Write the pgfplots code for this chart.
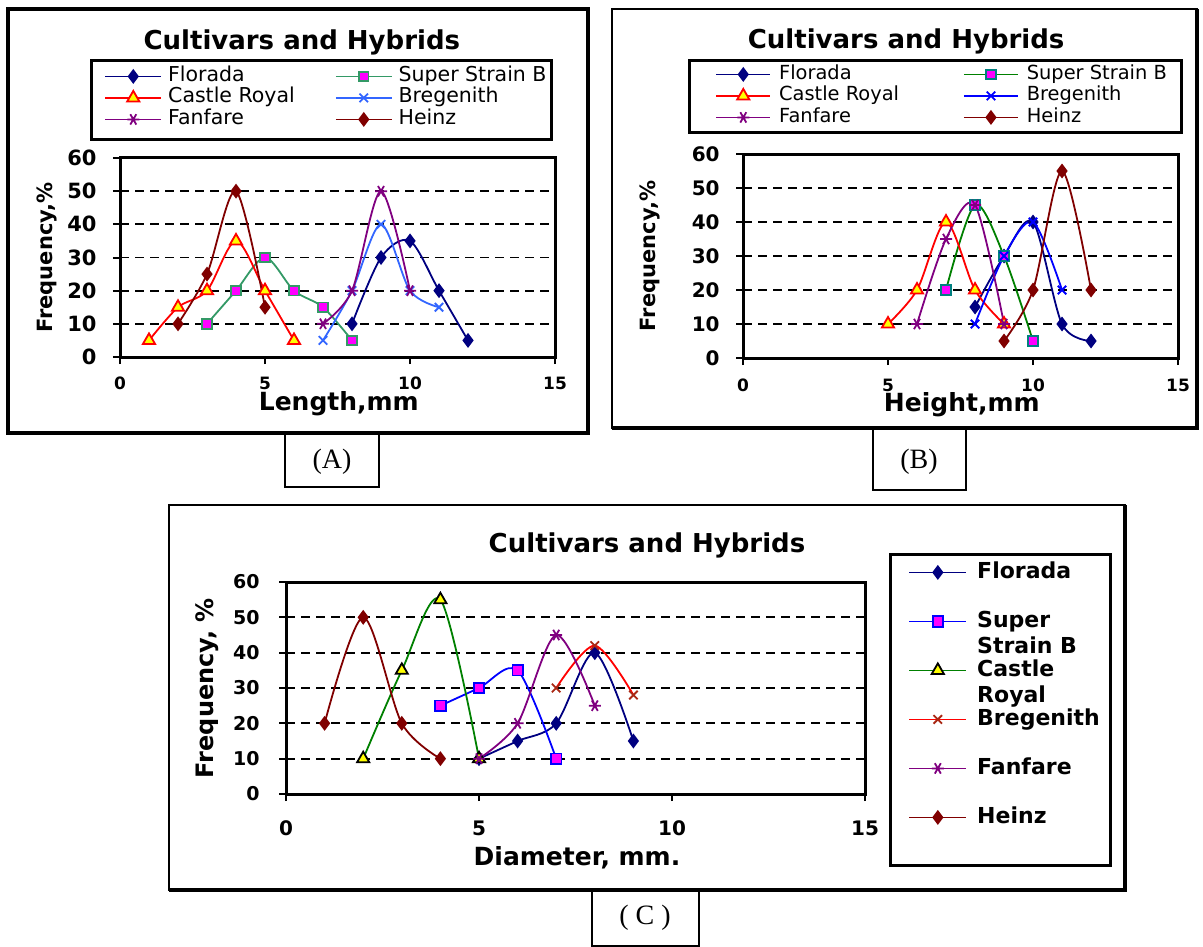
\documentclass[border=0pt]{standalone}
\usepackage{fontspec}
\setmainfont{DejaVu Sans}
\newfontfamily\capfont{Liberation Serif}
\usepackage{pgfplots}
\pgfplotsset{compat=1.18}

\definecolor{navy}{RGB}{0,0,128}
\definecolor{seagreen}{RGB}{51,153,102}
\definecolor{xlgreen}{RGB}{0,128,0}
\definecolor{xlteal}{RGB}{0,128,128}
\definecolor{xlmagenta}{RGB}{255,0,255}
\definecolor{xlred}{RGB}{255,0,0}
\definecolor{xlyellow}{RGB}{255,255,0}
\definecolor{lightblue}{RGB}{51,102,255}
\definecolor{xlblue}{RGB}{0,0,255}
\definecolor{xlpurple}{RGB}{128,0,128}
\definecolor{heinz}{RGB}{128,0,0}
\definecolor{brick}{RGB}{170,40,20}

\pgfplotsset{
  panel/.style={
    scale only axis,
    xmin=0, xmax=15, ymin=0, ymax=60,
    xtick={0,5,10,15}, ytick={0,10,...,60},
    tick pos=left, tick align=outside, major tick length=3.5pt,
    tick style={black, line width=1pt},
    axis line style={line width=1.5pt},
    ymajorgrids,
    major grid style={black, line width=0.9pt, dash pattern=on 4.5pt off 3pt},
    /pgf/number format/assume math mode=true,
    xticklabel style={anchor=center, inner sep=0pt},
    yticklabel style={anchor=east, inner sep=0pt},
    every axis plot/.append style={smooth, line width=0.9pt},
    legend cell align=left,
    every axis title shift=0pt,
    ylabel style={anchor=center},
    xlabel style={anchor=center},
    title style={anchor=center},
  },
}

\begin{document}
\begin{tikzpicture}
\begin{scope}[x=0.5pt,y=-0.5pt]
\path[use as bounding box] (0,0) rectangle (1203,943);
\end{scope}

% ---------------- (A) length
\begin{axis}[panel,
  at={(60pt,-178.5pt)}, anchor=south west,
  width=217.5pt, height=99.5pt,
  xticklabel style={yshift=-9.5pt, font=\fontsize{8.5}{10}\selectfont\bfseries},
  yticklabel style={xshift=-8pt, font=\fontsize{10.5}{12}\selectfont\bfseries},
  title={Cultivars and Hybrids},
  title style={at={(axis description cs:0.418,1.583)}, font=\fontsize{13}{15}\selectfont\bfseries},
  xlabel={Length,mm},
  xlabel style={at={(axis description cs:0.503,-0.236)}, font=\fontsize{12.5}{15}\selectfont\bfseries},
  ylabel={Frequency,\%},
  ylabel style={at={(axis description cs:-0.168,0.5)}, font=\fontsize{10.5}{12}\selectfont\bfseries},
  legend columns=2,
  legend image code/.code={\draw[mark repeat=2,mark phase=2] plot coordinates {(0pt,0pt) (14pt,0pt) (28pt,0pt)};},
  legend style={at={(axis description cs:-0.0368,1.4623)}, anchor=north west,
    draw=none, fill=none, inner sep=0pt, row sep=0.75pt,
    font=\fontsize{10.25}{12}\selectfont,
    nodes={inner xsep=3pt, inner ysep=0pt, text height=7.5pt, text depth=2.5pt},
    /tikz/every even column/.append style={column sep=17pt}},
]
\addplot[color=navy, mark=diamond*, mark size=3pt] coordinates {(8,10) (9,30) (10,35) (11,20) (12,5)};
\addplot[color=seagreen, mark=square*, mark size=2.4pt, mark options={fill=xlmagenta, draw=seagreen}] coordinates {(3,10) (4,20) (5,30) (6,20) (7,15) (8,5)};
\addplot[color=xlred, mark=triangle*, mark size=3.5pt, mark options={fill=xlyellow, draw=xlred}] coordinates {(1,5) (2,15) (3,20) (4,35) (5,20) (6,5)};
\addplot[color=lightblue, mark=x, mark size=3pt] coordinates {(7,5) (8,20) (9,40) (10,20) (11,15)};
\addplot[color=xlpurple, mark=asterisk, mark size=3pt, mark options={rotate=90}] coordinates {(7,10) (8,20) (9,50) (10,20)};
\addplot[color=heinz, mark=diamond*, mark size=3pt] coordinates {(2,10) (3,25) (4,50) (5,15)};
\legend{Florada, Super Strain B, Castle Royal, Bregenith, Fanfare, Heinz}
\end{axis}

% ---------------- (B) height
\begin{axis}[panel,
  at={(371.5pt,-179pt)}, anchor=south west,
  width=217.5pt, height=102pt,
  xticklabel style={yshift=-10pt, font=\fontsize{8.5}{10}\selectfont\bfseries},
  yticklabel style={xshift=-8pt, font=\fontsize{10}{12}\selectfont\bfseries},
  title={Cultivars and Hybrids},
  title style={at={(axis description cs:0.375,1.554)}, font=\fontsize{13}{15}\selectfont\bfseries},
  xlabel={Height,mm},
  xlabel style={at={(axis description cs:0.503,-0.23)}, font=\fontsize{12.5}{15}\selectfont\bfseries},
  ylabel={Frequency,\%},
  ylabel style={at={(axis description cs:-0.214,0.5)}, font=\fontsize{10.5}{12}\selectfont\bfseries},
  legend columns=2,
  legend image code/.code={\draw[mark repeat=2,mark phase=2] plot coordinates {(0pt,0pt) (13.5pt,0pt) (27pt,0pt)};},
  legend style={at={(axis description cs:-0.0644,1.4387)}, anchor=north west,
    draw=none, fill=none, inner sep=0pt, row sep=1.25pt,
    font=\fontsize{9.7}{11}\selectfont,
    nodes={inner xsep=3pt, inner ysep=0pt, text height=7.2pt, text depth=2.3pt},
    /tikz/every odd column/.append style={column sep=1pt},
    /tikz/every even column/.append style={column sep=29pt}},
]
\addplot[color=navy, mark=diamond*, mark size=3pt] coordinates {(8,15) (9,30) (10,40) (11,10) (12,5)};
\addplot[color=xlgreen, mark=square*, mark size=2.4pt, mark options={fill=xlmagenta, draw=xlteal}] coordinates {(7,20) (8,45) (9,30) (10,5)};
\addplot[color=xlred, mark=triangle*, mark size=3.5pt, mark options={fill=xlyellow, draw=xlred}] coordinates {(5,10) (6,20) (7,40) (8,20) (9,10)};
\addplot[color=xlblue, mark=x, mark size=3pt] coordinates {(8,10) (9,30) (10,40) (11,20)};
\addplot[color=xlpurple, mark=asterisk, mark size=3pt, mark options={rotate=90}] coordinates {(6,10) (7,35) (8,45) (9,10)};
\addplot[color=heinz, mark=diamond*, mark size=3pt] coordinates {(9,5) (10,20) (11,55) (12,20)};
\legend{Florada, Super Strain B, Castle Royal, Bregenith, Fanfare, Heinz}
\end{axis}

% ---------------- (C) diameter
\begin{axis}[panel,
  at={(143pt,-397pt)}, anchor=south west,
  width=289.5pt, height=106pt,
  xticklabel style={yshift=-13.5pt, font=\fontsize{10}{12}\selectfont\bfseries},
  yticklabel style={xshift=-9.5pt, font=\fontsize{9.5}{12}\selectfont\bfseries},
  title={Cultivars and Hybrids},
  title style={at={(axis description cs:0.6235,1.1745)}, font=\fontsize{13}{15}\selectfont\bfseries},
  xlabel={Diameter, mm.},
  xlabel style={at={(axis description cs:0.5026,-0.302)}, font=\fontsize{12.5}{15}\selectfont\bfseries},
  ylabel={Frequency, \%},
  ylabel style={at={(axis description cs:-0.1364,0.5)}, font=\fontsize{12}{14}\selectfont\bfseries},
  legend image code/.code={\draw[mark repeat=2,mark phase=2] plot coordinates {(0pt,0pt) (14.25pt,0pt) (28.5pt,0pt)};},
  legend style={at={(axis description cs:1.0743,1.0991)}, anchor=north west,
    draw=none, fill=none, inner sep=0pt, row sep=13.5pt,
    font=\fontsize{11}{13.25}\selectfont\bfseries,
    nodes={inner xsep=3pt, inner ysep=0pt, text height=8.5pt, text depth=2.5pt},
    /tikz/every odd column/.append style={column sep=2pt}},
]
\addplot[color=navy, mark=diamond*, mark size=3pt] coordinates {(5,10) (6,15) (7,20) (8,40) (9,15)};
\addplot[color=xlblue, mark=square*, mark size=2.6pt, mark options={fill=xlmagenta, draw=xlblue}] coordinates {(4,25) (5,30) (6,35) (7,10)};
\addplot[color=xlgreen, mark=triangle*, mark size=3.5pt, mark options={fill=xlyellow, draw=black}] coordinates {(2,10) (3,35) (4,55) (5,10)};
\addplot[color=xlred, mark=x, mark size=3pt, mark options={draw=brick}] coordinates {(7,30) (8,42) (9,28)};
\addplot[color=xlpurple, mark=asterisk, mark size=3pt, mark options={rotate=90}] coordinates {(5,10) (6,20) (7,45) (8,25)};
\addplot[color=heinz, mark=diamond*, mark size=3pt] coordinates {(1,20) (2,50) (3,20) (4,10)};
\legend{Florada, \smash{\vtop{\hbox{Super}\hbox{Strain B}}}, \smash{\vtop{\hbox{Castle}\hbox{Royal}}}, Bregenith, Fanfare, Heinz}
\end{axis}

% ---------------- frames and panel captions
\begin{scope}[x=0.5pt,y=-0.5pt]
\draw[line width=2pt] (8,9) rectangle (588,433);
\draw[line width=1pt] (612,9) rectangle (1197,428);
\draw[line width=2pt] (1197,9) -- (1197,428) -- (612,428);
\draw[line width=1pt] (169,505) rectangle (1125,890);
\draw[line width=2pt] (1125,505) -- (1125,890) -- (169,890);
\draw[line width=1.5pt] (91,61) rectangle (551,140);
\draw[line width=1.5pt] (689,61) rectangle (1181,133);
\draw[line width=1.5pt] (890,554) rectangle (1110,865);
\draw[line width=0.6pt] (285,433) rectangle (379,487);
\draw[line width=0.6pt] (873,428) rectangle (966,490);
\draw[line width=0.6pt] (592,890) rectangle (699,946);
\node[font=\capfont\fontsize{14}{16}\selectfont] at (332,462) {(A)};
\node[font=\capfont\fontsize{14}{16}\selectfont] at (919,462) {(B)};
\node[font=\capfont\fontsize{14}{16}\selectfont] at (645,918) {( C )};
\end{scope}
\end{tikzpicture}
\end{document}
